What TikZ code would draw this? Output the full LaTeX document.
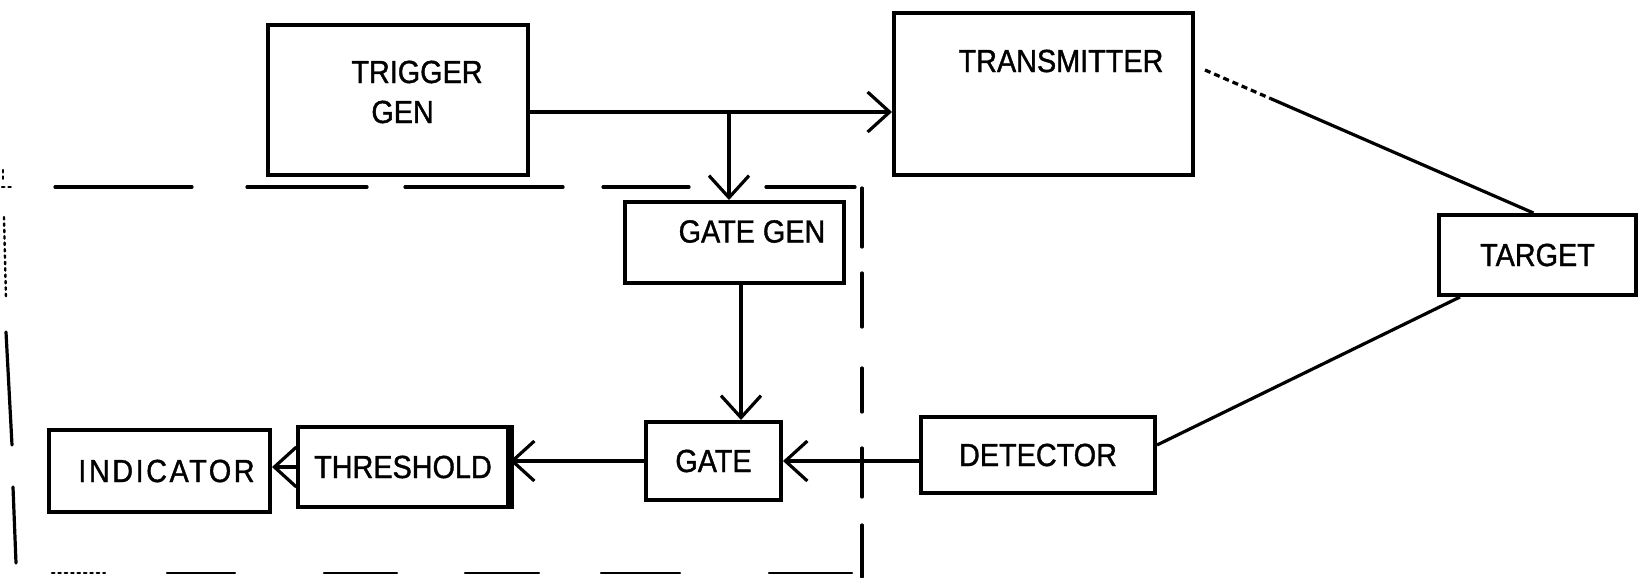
\documentclass[tikz,border=0pt]{standalone}
\usepackage{fontspec}
\setmainfont{Liberation Sans}[FakeStretch=0.9,FakeBold=1.2]
\usetikzlibrary{arrows.meta,calc}
\begin{document}
\begin{tikzpicture}[x=0.5pt,y=-0.5pt,
  box/.style={draw, line width=2pt, inner sep=0pt, font=\fontsize{16pt}{20pt}\selectfont},
  lbl/.style={inner sep=0pt, font=\fontsize{16pt}{20pt}\selectfont},
  arr/.style={line width=1.6pt, -{Straight Barb[length=11pt,width=20pt,line width=1.6pt]}},
  wire/.style={line width=1.6pt},
  bound/.style={line width=1.6pt, line cap=round},
  boundthin/.style={line width=1.2pt, line cap=round}]
\useasboundingbox (0,0) rectangle (1640,578);

% boxes
\node[box, minimum width=130pt, minimum height=75pt] (trig) at (398,100) {};
\node[lbl, align=left] (trigt) at (417,92) {TRIGGER\\\hspace*{10pt}GEN};
\node[box, minimum width=149.5pt, minimum height=81pt] (tx) at (1043.5,94) {};
\node[lbl] (txt) at (1061,61) {TRANSMITTER};
\node[box, minimum width=109.5pt, minimum height=40.5pt] (ggen) at (734.5,242.5) {};
\node[lbl] (ggent) at (752,231.5) {GATE GEN};
\node[box, minimum width=98.5pt, minimum height=40pt] (tgt) at (1537.5,255) {TARGET};
\node[box, minimum width=117pt, minimum height=38pt] (det) at (1038,455) {DETECTOR};
\node[box, minimum width=67.5pt, minimum height=39pt] (gate) at (713.5,461) {GATE};
\node[box, minimum width=105pt, minimum height=40pt] (thr) at (403,467) {THRESHOLD};
\node[box, minimum width=110.5pt, minimum height=41pt] (ind) at (159.5,471) {\hspace*{7pt}\addfontfeature{LetterSpace=8}INDICATOR};
\draw[line width=3.5pt] (thr.north east) -- (thr.south east);

% connectors
\coordinate (j) at (729,112);
\coordinate (gx) at (741,350);
\coordinate (txo) at (1205,70);
\draw[arr] (trig.east |- j) -- (tx.west |- j);
\draw[arr] (j) -- (ggen.north -| j);
\draw[arr] (ggen.south -| gx) -- (gate.north -| gx);
\draw[arr] (det.west |- gate.east) -- (gate.east);
\draw[arr] (gate.west) -- (thr.east |- gate.west);
\draw[arr] (thr.west) -- (ind.east |- thr.west);
\draw[wire] ([yshift=5pt]det.east) -- ([xshift=11.5pt]tgt.south west);
\draw[wire, dash pattern=on 3pt off 2pt] (txo) -- ($(txo)!0.2!([xshift=-2pt]tgt.north)$) coordinate (txm);
\draw[wire] (txm) -- ([xshift=-2pt]tgt.north);

% dashed boundary
\draw[boundthin, dotted] (2,187) -- (12,187);
\foreach \a/\b in {55/192,247/367,405/563,603/689,766/855}
  \draw[bound] (\a,187) -- (\b,187);
\foreach \a/\b in {188/247,273/327,368/412,448/497,525/577}
  \draw[bound] (862,\a) -- (862,\b);
\draw[boundthin, dotted] (3,170) -- (3,180);
\draw[boundthin, dotted] (4,217) -- (6,300);
\draw[bound] (6,332) -- (12,445);
\draw[bound] (13,487) -- (16,563);
\draw[boundthin, dotted] (52,573) -- (105,573);
\foreach \a/\b in {167/235,324/397,465/539,601/680,769/852}
  \draw[boundthin] (\a,573) -- (\b,573);
\end{tikzpicture}
\end{document}
